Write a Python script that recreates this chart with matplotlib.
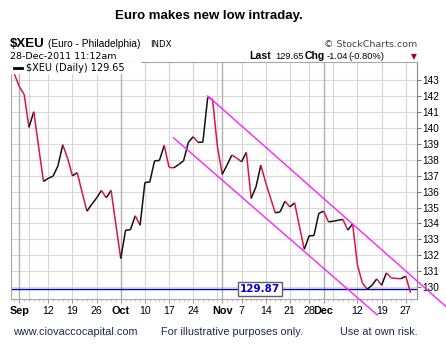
import matplotlib
matplotlib.use("Agg")
import matplotlib.pyplot as plt
import matplotlib.transforms as mtransforms
from matplotlib.lines import Line2D
import numpy as np
import pandas as pd
from matplotlib.collections import LineCollection

# ---------------- data ----------------
holidays = ["2011-09-05", "2011-11-24", "2011-12-26"]
dates = pd.bdate_range("2011-08-31", "2011-12-28", freq="C", holidays=holidays)

closes = [
    143.36,                                                   # Aug 31
    142.58, 142.10, 140.03, 141.01, 138.80, 136.64, 136.83, 136.97, 137.62, 138.94,
    138.08, 136.99, 137.18, 135.95, 134.77, 135.20, 135.60, 136.07, 135.61, 136.07,
    133.90,                                                   # Sep
    131.80, 133.58, 133.60, 134.48, 133.89, 136.57, 136.59, 137.93, 137.95, 138.90,
    137.52, 137.49, 137.70, 137.93, 139.09, 139.44, 139.09, 139.10, 141.91, 141.79,
    138.85,                                                   # Oct
    137.08, 137.66, 138.29, 138.10, 137.87, 138.46, 135.57, 136.30, 137.66, 136.57,
    135.60, 134.66, 134.73, 135.40, 135.04, 135.29, 133.79, 132.38, 133.22, 133.24,
    134.63,                                                   # Nov
    134.77, 134.10, 134.14, 134.20, 134.25, 133.58, 133.97, 131.40, 130.28, 129.87,
    130.12, 130.52, 130.12, 130.90, 130.58, 130.55, 130.53, 130.69, 129.65,  # Dec
]

tick_dates = ["2011-09-01", "2011-09-12", "2011-09-19", "2011-09-26", "2011-10-03",
              "2011-10-10", "2011-10-17", "2011-10-24", "2011-11-01", "2011-11-07",
              "2011-11-14", "2011-11-21", "2011-11-28", "2011-12-01", "2011-12-12",
              "2011-12-19", "2011-12-27"]
tick_labels = ["Sep", "12", "19", "26", "Oct", "10", "17", "24", "Nov", "7",
               "14", "21", "28", "Dec", "12", "19", "27"]
month_dates = ["2011-09-01", "2011-10-03", "2011-11-01", "2011-12-01"]
week_dates = ["2011-09-06", "2011-09-12", "2011-09-19", "2011-09-26", "2011-10-10",
              "2011-10-17", "2011-10-24", "2011-10-31", "2011-11-07", "2011-11-14",
              "2011-11-21", "2011-11-28", "2011-12-05", "2011-12-12", "2011-12-19",
              "2011-12-27"]
y_ticks = list(range(130, 144))

support_level = 129.87
upper_channel = ([40.0, 89.5], [142.0, 128.74])
lower_channel = ([32.9, 75.1], [139.38, 128.26])

last_change = "-1.04"
last_change_pct = "(-0.80%)"

# ---------------- figure ----------------
idx = {d.strftime("%Y-%m-%d"): i for i, d in enumerate(dates)}
x = np.arange(len(closes))
y = np.array(closes)

W, H = 446, 351
fig = plt.figure(figsize=(W / 100, H / 100), dpi=100)
fig.patch.set_facecolor("white")
ax = fig.add_axes([11.3 / W, 1 - 299.3 / H, (417 - 11.3) / W, (299.3 - 62) / H])
ax.set_xlim(-0.66, 83.33)
ax.set_ylim(129.24, 144.13)


def fx(px):
    return px / W


def fy(py):
    return 1 - py / H


# grid
for v in y_ticks:
    ax.axhline(v, color="#dadada", lw=0.8, zorder=0)
for d in week_dates:
    ax.axvline(idx[d], color="#d6d6d6", lw=0.8, zorder=0)
for d in month_dates:
    ax.axvline(idx[d], color="#b0b0b0", lw=1.0, zorder=0)

# price line coloured by direction
pts = np.column_stack([x, y])
segs = np.stack([pts[:-1], pts[1:]], axis=1)
cols = ["#dc1446" if y[i + 1] < y[i] else "#111111" for i in range(len(y) - 1)]
lc = LineCollection(segs, colors=cols, linewidths=1.1, zorder=3)
ax.add_collection(lc)

# support line and label
ax.axhline(support_level, color="#0000b4", lw=1.0, zorder=2)
ax.text(50.9, support_level, f"{support_level:.2f}", ha="center", va="center",
        color="#0000e0", fontsize=7.5, fontweight="bold", family="DejaVu Sans",
        bbox=dict(boxstyle="square,pad=0.18", fc="white", ec="#606060", lw=1.0),
        zorder=5)

# channel lines
ax.plot(*upper_channel, color="#ff22ff", lw=1.0, clip_on=False, zorder=4)
ax.plot(*lower_channel, color="#ff22ff", lw=1.0, clip_on=False, zorder=4)

# axes styling
for s in ["left", "top", "bottom"]:
    ax.spines[s].set_color("#a8a8a8")
ax.spines["right"].set_color("#888888")
ax.yaxis.tick_right()
ax.set_yticks(y_ticks)
ax.set_yticklabels([str(v) for v in y_ticks], family="Liberation Sans", fontsize=7.2)
ax.tick_params(axis="y", direction="out", length=3, width=0.8, color="#777777", pad=1)

ax.set_xticks([idx[d] for d in tick_dates])
ax.set_xticklabels(tick_labels, family="Liberation Sans", fontsize=7.6)
for lab in ax.get_xticklabels():
    if lab.get_text() in ("Sep", "Oct", "Nov", "Dec"):
        lab.set_fontweight("bold")
        lab.set_fontsize(7.8)
    if lab.get_text() == "28":
        lab.set_transform(lab.get_transform() +
                          mtransforms.ScaledTranslation(-2 / 100, 0, fig.dpi_scale_trans))
ax.set_xticks(x, minor=True)
ax.tick_params(axis="x", which="major", direction="out", length=3, width=0.8,
               color="#999999", pad=1.5)
ax.tick_params(axis="x", which="minor", direction="out", length=1.5, width=0.8,
               color="#bbbbbb")

# legend box
ax.add_patch(plt.Rectangle((0, 1 - 12 / 237.3), 130 / 405.7, 12 / 237.3,
                           transform=ax.transAxes, fc="white", ec="none", zorder=6))
fig.add_artist(Line2D([fx(14), fx(22)], [fy(68), fy(68)], color="black", lw=2.0,
                      zorder=7))
fig.text(fx(26), fy(68), f"$XEU (Daily) {closes[-1]:.2f}", fontsize=7,
         family="DejaVu Sans", va="center", ha="left", zorder=7)

# header
fig.text(fx(209), fy(19), "Euro makes new low intraday.", ha="center",
         va="baseline", fontsize=9.5, fontweight="bold", family="Liberation Sans")
fig.text(fx(10), fy(47), "$XEU", ha="left", va="baseline", fontsize=9.5,
         fontweight="bold", family="Liberation Sans")
fig.text(fx(48), fy(47), "(Euro - Philadelphia)", ha="left", va="baseline",
         fontsize=7.3, family="Liberation Sans")
fig.text(fx(150), fy(47), "INDX", ha="left", va="baseline", fontsize=6.2,
         family="DejaVu Sans")
fig.text(fx(10), fy(59), "28-Dec-2011 11:12am", ha="left", va="baseline",
         fontsize=6.8, family="DejaVu Sans")
fig.text(fx(417), fy(47), "\u00a9 StockCharts.com", ha="right", va="baseline",
         fontsize=6.8, family="DejaVu Sans", color="#444444")
fig.text(fx(249), fy(59), "Last", ha="left", va="baseline", fontsize=7.6,
         fontweight="bold", family="Liberation Sans")
fig.text(fx(275), fy(59), f"{closes[-1]:.2f}", ha="left", va="baseline",
         fontsize=6.7, family="Liberation Sans")
fig.text(fx(305), fy(59), "Chg", ha="left", va="baseline", fontsize=7.6,
         fontweight="bold", family="Liberation Sans")
fig.text(fx(327), fy(59), last_change, ha="left", va="baseline",
         fontsize=6.7, family="Liberation Sans")
fig.text(fx(348), fy(59), last_change_pct, ha="left", va="baseline",
         fontsize=6.7, family="Liberation Sans")
fig.text(fx(417), fy(59), "\u25bc", ha="right", va="baseline",
         fontsize=5.5, family="DejaVu Sans", color="#a00020")

# footer
fig.text(fx(13), fy(332), "www.ciovaccocapital.com", ha="left", va="center",
         fontsize=7.8, family="Liberation Sans", color="#1c2a50")
fig.text(fx(232), fy(332), "For illustrative purposes only.", ha="center",
         va="center", fontsize=7.8, family="Liberation Sans", color="#1c2a50")
fig.text(fx(379), fy(332), "Use at own risk.", ha="center", va="center",
         fontsize=7.8, family="Liberation Sans", color="#1c2a50")

fig.savefig("out.png", dpi=100)
